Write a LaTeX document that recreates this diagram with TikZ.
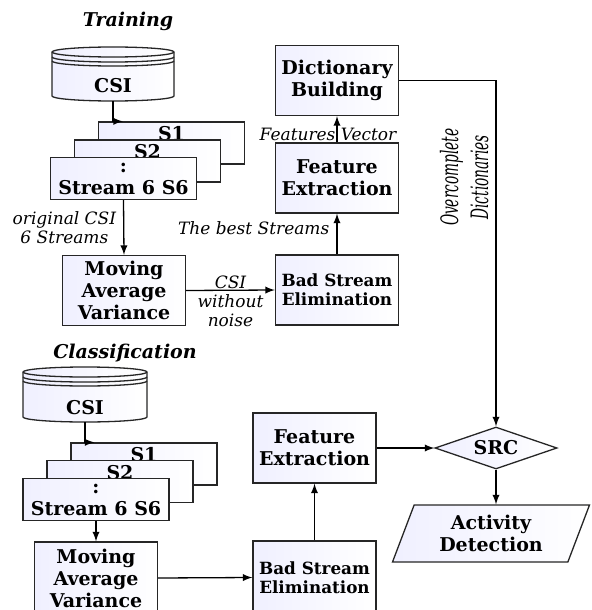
\documentclass[tikz,border=0pt]{standalone}
\usepackage{fontspec}
\setmainfont{DejaVu Serif}
\newfontfamily\condserif[FakeStretch=0.57]{DejaVu Serif}
\usetikzlibrary{arrows, shapes.geometric, calc, positioning}

\begin{document}
\begin{tikzpicture}[x=0.5pt, y=0.5pt, >=latex,
    block/.style={draw=black!85, line width=0.65pt, left color=blue!6!white, right color=white, align=center, inner sep=1pt, font=\bfseries\fontsize{9.5}{11}\selectfont},
    bigblock/.style={block, minimum width=61.5pt, minimum height=35pt},
    bseblock/.style={bigblock, font=\bfseries\fontsize{8.4}{9.5}\selectfont},
    stackbox/.style={block, minimum width=73pt, minimum height=21pt},
    stacklbl/.style={anchor=north, inner sep=2.5pt, font=\bfseries\fontsize{9.5}{11}\selectfont},
    dbshape/.style={draw=black!85, line width=0.65pt, left color=blue!6!white, right color=white},
    dbline/.style={draw=black!85, line width=0.65pt},
    lbl/.style={font=\itshape\fontsize{8.5}{9.5}\selectfont, align=center, inner sep=3.5pt},
    phasetitle/.style={font=\bfseries\itshape\fontsize{9.5}{11}\selectfont},
    flow/.style={->, line width=0.65pt}]

    \useasboundingbox (0,0) rectangle (592,-610);

    % ---------------- Training ----------------
    \node[phasetitle] (trainTitle) at (128,-21) {Training};

    % CSI database
    \begin{scope}[shift={(113,-52)}]
        \draw[dbshape] (-61,0) -- (-61,-44) arc[start angle=180, end angle=360, x radius=61, y radius=5] -- (61,0) arc[start angle=0, end angle=180, x radius=61, y radius=5] -- cycle;
        \draw[dbline] (-61,0) arc[start angle=180, end angle=360, x radius=61, y radius=5];
        \draw[dbline] (-61,-5) arc[start angle=180, end angle=360, x radius=61, y radius=5];
        \draw[dbline] (-61,-9) arc[start angle=180, end angle=360, x radius=61, y radius=5];
        \node[font=\bfseries\fontsize{9.5}{11}\selectfont] (csiA) at (0,-34) {CSI};
        \coordinate (csiAbot) at (0,-49);
    \end{scope}

    % the six streams
    \node[stackbox, label={[stacklbl]north:S1}] (s1A) at (171.5,-143) {};
    \node[stackbox, label={[stacklbl]north:S2}] (s2A) at (147.5,-161) {};
    \node[stackbox] (s6A) at (123.5,-178.5) {:\\Stream 6 S6};
    \draw[flow] (csiAbot) |- ($(s1A.north west)+(25,0)$);

    \node[bigblock] (mavA) at (124,-290.5) {Moving\\Average\\Variance};
    \node[bseblock] (bseA) at (337,-290) {Bad Stream\\Elimination};
    \node[bigblock] (feA) at (337,-178) {Feature\\Extraction};
    \node[bigblock] (dbA) at (337,-80.5) {Dictionary\\Building};

    \draw[flow] (s6A.south) -- (mavA.north) node[lbl, midway, left] {original CSI\\6 Streams};
    \draw[flow] (mavA.east) -- (bseA.west) node[lbl, midway, yshift=-5.5pt] {CSI\\without\\noise};
    \draw[flow] (bseA.north) -- (feA.south) node[lbl, pos=0.65, left] {The best Streams};
    \draw[flow] (feA.north) -- (dbA.south) node[lbl, pos=0.3, xshift=-4.5pt] {Features Vector};

    % ---------------- Classification ----------------
    \node[phasetitle] (classTitle) at (125,-353) {Classification};

    % CSI database
    \begin{scope}[shift={(85,-372)}]
        \draw[dbshape] (-62,0) -- (-62,-45) arc[start angle=180, end angle=360, x radius=62, y radius=5] -- (62,0) arc[start angle=0, end angle=180, x radius=62, y radius=5] -- cycle;
        \draw[dbline] (-62,0) arc[start angle=180, end angle=360, x radius=62, y radius=5];
        \draw[dbline] (-62,-5) arc[start angle=180, end angle=360, x radius=62, y radius=5];
        \draw[dbline] (-62,-9) arc[start angle=180, end angle=360, x radius=62, y radius=5];
        \node[font=\bfseries\fontsize{9.5}{11}\selectfont] (csiB) at (0,-36) {CSI};
        \coordinate (csiBbot) at (0,-50);
    \end{scope}

    \node[stackbox, label={[stacklbl]north:S1}] (s1B) at (144,-464) {};
    \node[stackbox, label={[stacklbl]north:S2}] (s2B) at (120,-481.5) {};
    \node[stackbox] (s6B) at (96,-499.5) {:\\Stream 6 S6};
    \draw[flow] (csiBbot) |- ($(s1B.north west)+(24,0)$);

    \node[bigblock, minimum height=36pt] (mavB) at (96,-578) {Moving\\Average\\Variance};
    \node[bseblock, minimum height=36.5pt] (bseB) at (314.5,-577.5) {Bad Stream\\Elimination};
    \node[bigblock] (feB) at (314.5,-448) {Feature\\Extraction};
    \node[block, diamond, aspect=3, inner sep=0pt, minimum width=61pt, minimum height=21pt] (srcB) at (496,-448) {SRC};
    \node[block, trapezium, trapezium left angle=62, trapezium right angle=118, trapezium stretches body, minimum width=98.5pt, minimum height=28.5pt] (adB) at (491,-533.5) {Activity\\Detection};

    \draw[flow] (s6B.south) -- (mavB.north);
    \draw[flow] (mavB.east) -- (bseB.west);
    \draw[flow] (bseB.north) -- (feB.south);
    \draw[flow] (feB.east) -- (srcB.west);
    \draw[flow] (srcB.south) -- (srcB.south |- adB.north);

    % dictionaries go to the classifier
    \draw[flow] (dbA.east) -| (srcB.north) node[pos=0.64, rotate=90, anchor=south, align=center, inner sep=3.5pt, font=\condserif\itshape\fontsize{12}{15}\selectfont] {Overcomplete\\Dictionaries};
\end{tikzpicture}
\end{document}
